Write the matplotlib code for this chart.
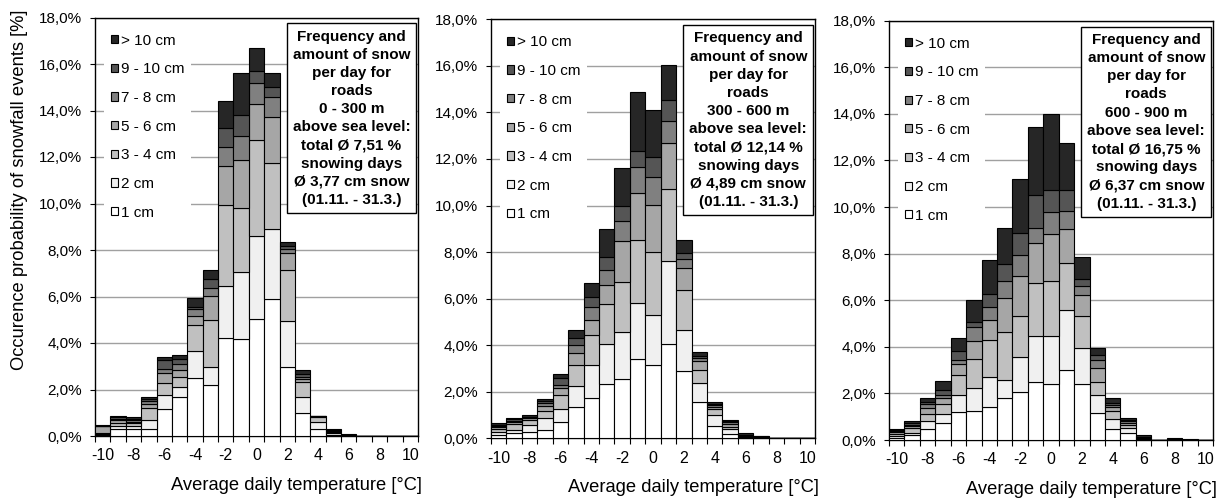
import numpy as np
import matplotlib
matplotlib.use("Agg")
import matplotlib.pyplot as plt
from matplotlib.patches import Patch
from matplotlib.ticker import FuncFormatter, FixedLocator

plt.rcParams['font.family'] = ['Liberation Sans', 'DejaVu Sans']
plt.rcParams['axes.unicode_minus'] = False

# average daily temperature classes [°C]
temps = [-10, -9, -8, -7, -6, -5, -4, -3, -2, -1, 0, 1, 2, 3, 4, 5, 6, 7, 8, 9, 10]

classes = ['1 cm', '2 cm', '3 - 4 cm', '5 - 6 cm', '7 - 8 cm', '9 - 10 cm', '> 10 cm']
colors = ['#ffffff', '#f0f0f0', '#c0c0c0', '#a6a6a6', '#808080', '#555555', '#262626']

# 0 - 300 m above sea level, occurence probability [%]
low_1 = [0.05, 0.30, 0.30, 0.29, 1.15, 1.66, 2.49, 2.19, 4.21, 4.16, 5.03, 5.88, 2.95, 0.99, 0.30, 0.06, 0.02, 0, 0, 0, 0]
low_2 = [0.03, 0.12, 0.15, 0.41, 0.61, 0.45, 1.18, 0.79, 2.26, 2.88, 3.57, 3.01, 2.00, 0.67, 0.29, 0.06, 0.01, 0, 0, 0, 0]
low_34 = [0.04, 0.15, 0.10, 0.52, 0.51, 0.41, 1.10, 2.01, 3.47, 2.78, 4.13, 2.84, 2.20, 0.68, 0.24, 0.05, 0.01, 0, 0, 0, 0]
low_56 = [0.30, 0.12, 0.07, 0.16, 0.43, 0.32, 0.40, 1.05, 1.67, 2.05, 1.54, 1.99, 0.74, 0.10, 0.01, 0.05, 0.01, 0, 0, 0, 0]
low_78 = [0.02, 0.05, 0.05, 0.14, 0.17, 0.26, 0.28, 0.34, 0.83, 1.03, 0.93, 0.87, 0.14, 0.10, 0.01, 0.03, 0.005, 0, 0, 0, 0]
low_910 = [0.01, 0.06, 0.06, 0.08, 0.40, 0.23, 0.11, 0.39, 0.79, 0.91, 0.50, 0.41, 0.16, 0.11, 0.00, 0.02, 0.005, 0, 0, 0, 0]
low_10 = [0.01, 0.06, 0.10, 0.08, 0.11, 0.17, 0.39, 0.37, 1.18, 1.82, 0.97, 0.63, 0.14, 0.19, 0.00, 0.02, 0.005, 0, 0, 0, 0]

# 300 - 600 m
mid_1 = [0.15, 0.22, 0.27, 0.37, 0.68, 1.35, 1.73, 2.35, 2.53, 3.39, 3.14, 4.04, 2.89, 1.54, 0.51, 0.18, 0.03, 0.01, 0, 0, 0]
mid_2 = [0.13, 0.15, 0.28, 0.49, 0.57, 0.90, 1.41, 1.72, 2.05, 2.41, 2.16, 3.58, 1.76, 0.84, 0.49, 0.22, 0.02, 0.01, 0, 0, 0]
mid_34 = [0.11, 0.24, 0.24, 0.32, 0.60, 0.89, 1.31, 1.69, 2.15, 2.72, 2.69, 3.08, 1.72, 0.54, 0.24, 0.10, 0.02, 0.01, 0, 0, 0]
mid_56 = [0.08, 0.10, 0.07, 0.20, 0.29, 0.54, 0.64, 0.82, 1.76, 2.01, 2.03, 1.97, 0.96, 0.40, 0.11, 0.12, 0.02, 0.01, 0, 0, 0]
mid_78 = [0.06, 0.04, 0.03, 0.12, 0.16, 0.31, 0.53, 0.66, 0.86, 1.11, 1.22, 0.96, 0.37, 0.12, 0.06, 0.07, 0.02, 0.02, 0, 0, 0]
mid_910 = [0.05, 0.06, 0.04, 0.11, 0.28, 0.31, 0.47, 0.56, 0.63, 0.72, 0.86, 0.91, 0.25, 0.10, 0.05, 0.04, 0.03, 0.02, 0, 0, 0]
mid_10 = [0.07, 0.08, 0.06, 0.09, 0.18, 0.36, 0.60, 1.20, 1.62, 2.50, 2.01, 1.50, 0.57, 0.18, 0.08, 0.07, 0.07, 0.03, 0, 0, 0]

# 600 - 900 m
high_1 = [0.07, 0.20, 0.47, 0.71, 1.22, 1.26, 1.40, 1.79, 2.07, 2.50, 2.40, 3.00, 2.39, 1.14, 0.46, 0.29, 0.03, 0.00, 0.01, 0.00, 0]
high_2 = [0.10, 0.09, 0.36, 0.39, 0.71, 0.99, 1.29, 0.79, 1.51, 1.98, 2.06, 2.58, 1.54, 0.79, 0.43, 0.24, 0.02, 0.00, 0.01, 0.00, 0]
high_34 = [0.09, 0.21, 0.29, 0.44, 0.86, 1.21, 1.60, 2.07, 1.74, 2.24, 2.36, 2.00, 1.39, 0.57, 0.36, 0.12, 0.02, 0.00, 0.01, 0.00, 0]
high_56 = [0.07, 0.10, 0.24, 0.25, 0.46, 0.80, 0.86, 1.46, 1.72, 1.72, 2.01, 1.46, 0.90, 0.60, 0.15, 0.08, 0.02, 0.00, 0.01, 0.005, 0]
high_78 = [0.06, 0.06, 0.18, 0.14, 0.18, 0.58, 0.57, 0.71, 0.90, 0.67, 0.96, 0.80, 0.39, 0.33, 0.10, 0.07, 0.03, 0.005, 0.01, 0.005, 0]
high_910 = [0.04, 0.06, 0.11, 0.22, 0.40, 0.24, 0.55, 0.72, 0.93, 1.41, 0.94, 0.89, 0.31, 0.22, 0.10, 0.06, 0.03, 0.005, 0.01, 0.01, 0]
high_10 = [0.04, 0.11, 0.14, 0.38, 0.53, 0.93, 1.46, 1.57, 2.32, 2.93, 3.26, 2.03, 0.92, 0.28, 0.19, 0.10, 0.06, 0.01, 0.02, 0.01, 0]

heights = ['0 - 300 m', '300 - 600 m', '600 - 900 m']
totals = ['7,51', '12,14', '16,75']
means = ['3,77', '4,89', '6,37']

panels = [
    [low_1, low_2, low_34, low_56, low_78, low_910, low_10],
    [mid_1, mid_2, mid_34, mid_56, mid_78, mid_910, mid_10],
    [high_1, high_2, high_34, high_56, high_78, high_910, high_10],
]

W, H = 1226, 499
fig = plt.figure(figsize=(W / 100, H / 100), dpi=100)

# axes boxes in pixels: left, right, top, bottom
boxes = [(95, 418, 17.5, 436), (491, 815, 19.3, 438.3), (889, 1213, 20.7, 440)]

pct = FuncFormatter(lambda v, p: f"{v:.1f}%".replace('.', ','))

for k, (series, (l, r, t, b)) in enumerate(zip(panels, boxes)):
    ax = fig.add_axes([l / W, 1 - b / H, (r - l) / W, (b - t) / H])
    bottom = np.zeros(len(temps))
    for vals, col in zip(series, colors):
        ax.bar(temps, vals, width=1.0, bottom=bottom, color=col,
               edgecolor='black', linewidth=0.8, zorder=3)
        bottom += np.array(vals)

    ax.set_xlim(-10.5, 10.5)
    ax.set_ylim(0, 18)
    ax.set_yticks(np.arange(0, 18.1, 2))
    ax.yaxis.set_major_formatter(pct)
    ax.yaxis.grid(True, color='#a0a0a0', linewidth=1.0, zorder=0)
    ax.set_axisbelow(True)

    ax.xaxis.set_major_locator(FixedLocator(list(range(-10, 11, 2))))
    ax.xaxis.set_minor_locator(FixedLocator(list(np.arange(-10.5, 10.6, 1.0))))
    ax.tick_params(axis='x', which='major', length=0, pad=9, labelsize=11.5)
    ax.tick_params(axis='x', which='minor', length=4.5, width=0.8, direction='out')
    ax.tick_params(axis='y', length=3.5, width=0.8, pad=6, labelsize=11)
    for s in ax.spines.values():
        s.set_linewidth(1.0)
        s.set_color('black')

    ax.set_xlabel('Average daily temperature [°C]', fontsize=13.2, ha='right')
    ax.xaxis.set_label_coords(1.012, -0.097)

    handles = [Patch(facecolor=c, edgecolor='black', linewidth=0.8) for c in colors[::-1]]
    leg = ax.legend(handles, classes[::-1], loc='upper left', fontsize=11,
                    frameon=True, fancybox=False, framealpha=1,
                    handlelength=0.45, handleheight=0.45, handletextpad=0.2,
                    labelspacing=0.96, borderpad=0.45, borderaxespad=0.6)
    leg.get_frame().set_edgecolor('none')
    leg.get_frame().set_facecolor('white')
    leg.set_zorder(5)

    info = ("Frequency and\namount of snow\nper day for\nroads\n"
            f"{heights[k]}\nabove sea level:\ntotal Ø {totals[k]} %\n"
            f"snowing days\nØ {means[k]} cm snow\n(01.11. - 31.3.)")
    ax.text(0.794, 0.759, info, transform=ax.transAxes, ha='center', va='center',
            fontsize=11, fontweight='bold', linespacing=1.38, zorder=6,
            bbox=dict(boxstyle='square,pad=0.4', facecolor='white',
                      edgecolor='black', linewidth=1.0))

fig.text(20 / W, 1 - 190 / H, 'Occurence probability of snowfall events [%]',
         rotation=90, ha='center', va='center', fontsize=13.2)

fig.savefig('out.png', dpi=100)
